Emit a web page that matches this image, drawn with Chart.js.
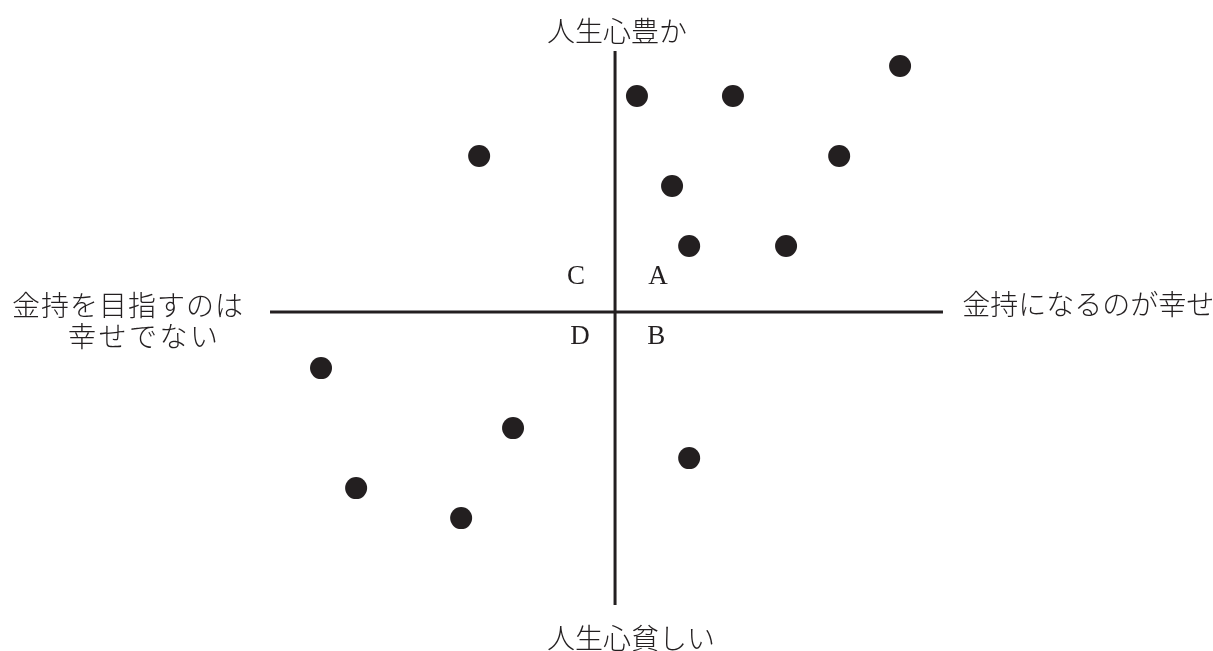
<!DOCTYPE html>
<html>
<head>
<meta charset="utf-8">
<script src="https://cdn.jsdelivr.net/npm/chart.js@4"></script>
<style>
  html, body { margin: 0; padding: 0; background: #fff; }
  #wrap { width: 1213px; height: 651px; }
</style>
</head>
<body>
<div id="wrap"><canvas id="quad" width="1213" height="651"></canvas></div>
<script>
// point values, in grid units from the centre cross
const pointsX = [0.73, 3.93, 9.5, -4.53, 7.47, 1.9, 2.47, 5.7, -9.8, -3.4, 2.47, -8.63, -5.13];
const pointsY = [7.2, 7.2, 8.2, 5.2, 5.2, 4.2, 2.2, 2.2, -1.87, -3.87, -4.87, -5.87, -6.87];

// extent of the two axis lines
const hAxis = [-11.5, 10.93];
const vAxis = [8.7, -9.77];

const axisTitles = {
  top: '人生心豊か',
  bottom: '人生心貧しい',
  right: '金持になるのが幸せ',
  left: ['金持を目指すのは', '幸せでない']
};
const quadrantNames = ['A', 'B', 'C', 'D'];

const ink = '#231f20';
const jpFont = '"Noto Sans CJK JP", sans-serif';
const latinFont = '"Liberation Serif", "DejaVu Serif", serif';

const textPlugin = {
  id: 'quadText',
  afterDraw(chart) {
    const c = chart.ctx;
    const x = chart.scales.x, y = chart.scales.y;
    const px = v => x.getPixelForValue(v);
    const py = v => y.getPixelForValue(v);
    c.save();
    c.fillStyle = ink;
    c.textBaseline = 'middle';

    c.font = '300 28px ' + jpFont;
    c.textAlign = 'left';
    c.fillText(axisTitles.top, px(-2.27), py(9.37));
    c.fillText(axisTitles.bottom, px(-2.27), py(-10.87));
    c.fillText(axisTitles.right, px(11.57), py(0.27));
    c.letterSpacing = '1px';
    c.fillText(axisTitles.left[0], px(-20.1), py(0.23));
    c.letterSpacing = '2.5px';
    c.fillText(axisTitles.left[1], px(-18.23), py(-0.8));
    c.letterSpacing = '0px';

    c.font = '27px ' + latinFont;
    c.textAlign = 'center';
    const spots = {A: [1.43, 1.17], B: [1.37, -0.83], C: [-1.3, 1.17], D: [-1.17, -0.83]};
    quadrantNames.forEach(n => c.fillText(n, px(spots[n][0]), py(spots[n][1])));
    c.restore();
  }
};

new Chart(document.getElementById('quad').getContext('2d'), {
  type: 'scatter',
  data: {
    datasets: [
      {
        data: pointsX.map((v, i) => ({x: v, y: pointsY[i]})),
        backgroundColor: ink,
        borderWidth: 0,
        pointRadius: 11,
        pointHoverRadius: 11
      },
      {
        data: hAxis.map(v => ({x: v, y: 0})),
        showLine: true,
        borderColor: ink,
        borderWidth: 3,
        pointRadius: 0
      },
      {
        data: vAxis.map(v => ({x: 0, y: v})),
        showLine: true,
        borderColor: ink,
        borderWidth: 3,
        pointRadius: 0
      }
    ]
  },
  options: {
    responsive: false,
    animation: false,
    layout: {padding: 0, autoPadding: false},
    plugins: {
      legend: {display: false},
      tooltip: {enabled: false}
    },
    scales: {
      x: {type: 'linear', display: false, min: -20.5, max: 19.93},
      y: {type: 'linear', display: false, min: -11.3, max: 10.4}
    }
  },
  plugins: [textPlugin]
});
</script>
</body>
</html>
